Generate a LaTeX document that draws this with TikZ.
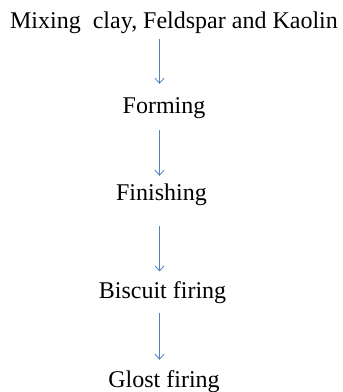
\documentclass[tikz,border=0pt]{standalone}
\usepackage{fontspec}
\setmainfont{Liberation Serif}
\usepackage{tikz}
\usetikzlibrary{calc, arrows.meta}
\definecolor{flowblue}{RGB}{79,129,189}

\begin{document}
\begin{tikzpicture} [stage/.style={anchor=base, inner sep=0pt, text height=16pt, text depth=5pt, font=\fontsize{24}{28}\selectfont},
flow/.style={-{Straight Barb[length=5pt,width=9pt]}, flowblue, line width=0.8pt}]
\useasboundingbox (0,0) rectangle (12.02,13.777);

%%%steps
\node[stage] (mix) at (6.115,12.758) {Mixing~ clay, Feldspar and Kaolin};
\node[stage] (form) at (5.764,9.788) {Forming};
\node[stage] (fin) at (5.676,6.713) {Finishing};
\node[stage] (bisc) at (5.711,3.269) {Biscuit firing};
\node[stage] (glost) at (5.764,0.141) {Glost firing};

%%%arrows
\coordinate (axis) at (5.606,0);
\draw[flow, shorten <=5pt, shorten >=13.5pt] (mix.south -| axis) -- (form.north -| axis);
\draw[flow, shorten <=11.5pt, shorten >=9pt] (form.south -| axis) -- (fin.north -| axis);
\draw[flow, shorten <=20pt, shorten >=11.3pt] (fin.south -| axis) -- (bisc.north -| axis);
\draw[flow, shorten <=9pt, shorten >=12pt] (bisc.south -| axis) -- (glost.north -| axis);

\end{tikzpicture}
\end{document}
